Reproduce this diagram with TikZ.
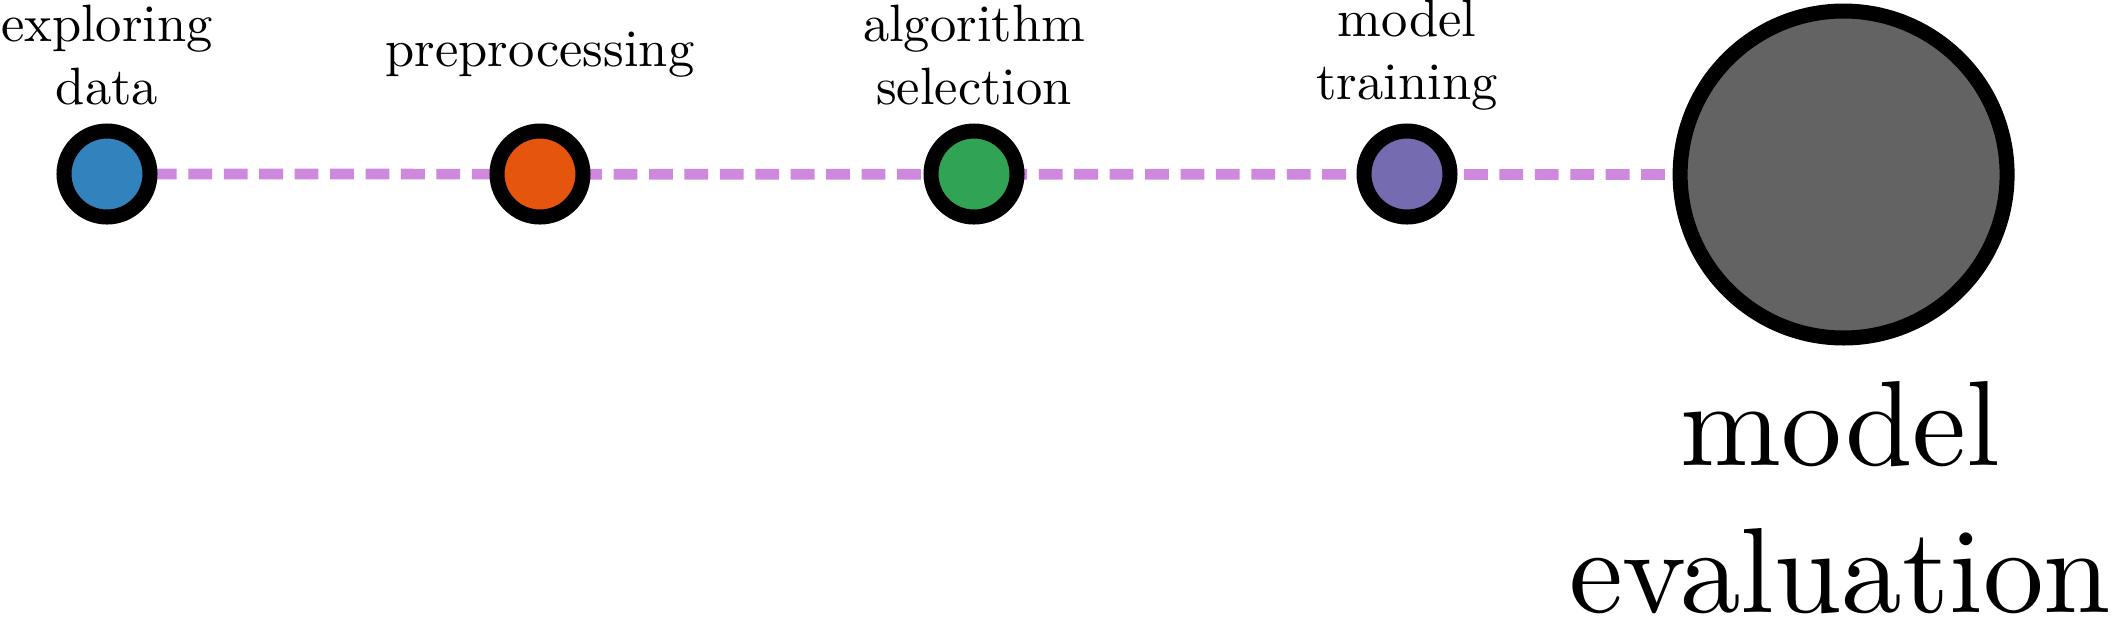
\documentclass[tikz,border=0pt]{standalone}
\usetikzlibrary{backgrounds}
\definecolor{cblue}{HTML}{3182BD}
\definecolor{corange}{HTML}{E6550D}
\definecolor{cgreen}{HTML}{31A354}
\definecolor{cpurple}{HTML}{756BB1}
\definecolor{cgray}{HTML}{636363}
\definecolor{cpink}{RGB}{206,137,222}
\font\evalfont="[lmroman10-regular]:mapping=tex-text" at 23.3pt
\begin{document}
\begin{tikzpicture}[x=0.19231pt,y=-0.19231pt,
  stage/.style={circle,draw=black,line width=2.885pt,minimum size=16.54pt,inner sep=0pt},
  finalstage/.style={circle,draw=black,line width=2.885pt,minimum size=62.88pt,inner sep=0pt,fill=cgray},
  smalllabel/.style={align=center,inner sep=0pt,font=\fontsize{10.1}{12}\selectfont},
  biglabel/.style={align=center,inner sep=0pt,anchor=south,font={\fontsize{23.3}{28.35}\selectfont\evalfont}},
  link/.style={draw=cpink,line width=2.058pt,dash pattern=on 4.577pt off 2.237pt,dash phase=4.794pt}]
\useasboundingbox (0,0) rectangle (2122,616);
\node[stage,fill=cblue] (n1) at (107,174) {};
\node[stage,fill=corange] (n2) at (540,174) {};
\node[stage,fill=cgreen] (n3) at (974,174) {};
\node[stage,fill=cpurple] (n4) at (1407,174) {};
\node[finalstage] (n5) at (1843.6,174.5) {};
\begin{scope}[on background layer]
\draw[link] (n1.center) -- (n5.center);
\end{scope}
\node[smalllabel] (l1) at (107,55) {exploring\\data};
\node[smalllabel] (l2) at (540,55) {preprocessing};
\node[smalllabel] (l3) at (974,55) {algorithm\\selection};
\node[smalllabel] (l4) at (1407,55) {model\\training};
\node[biglabel] (l5) at (1840,615) {model\\evaluation};
\end{tikzpicture}
\end{document}
